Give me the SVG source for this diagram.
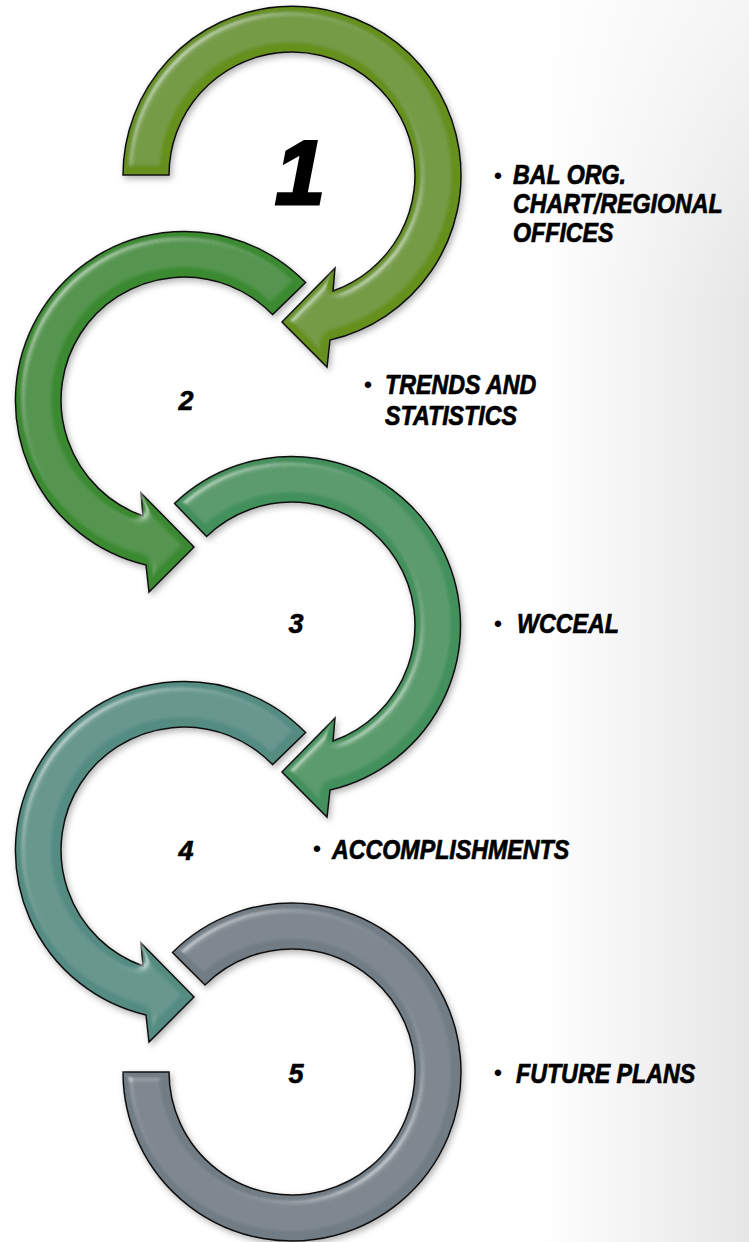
<svg xmlns="http://www.w3.org/2000/svg" width="749" height="1242" viewBox="0 0 749 1242">
<defs>
<linearGradient id="bg" x1="0" y1="0" x2="749" y2="0" gradientUnits="userSpaceOnUse">
<stop offset="0" stop-color="#ffffff"/>
<stop offset="0.72" stop-color="#ffffff"/>
<stop offset="1" stop-color="#e6e6e6"/>
</linearGradient>
<linearGradient id="bgv" x1="0" y1="0" x2="0" y2="1242" gradientUnits="userSpaceOnUse">
<stop offset="0" stop-color="#ffffff" stop-opacity="0.6"/>
<stop offset="0.25" stop-color="#ffffff" stop-opacity="0"/>
<stop offset="1" stop-color="#ffffff" stop-opacity="0"/>
</linearGradient>
<filter id="gloss" x="-15%" y="-15%" width="130%" height="130%">
<feGaussianBlur in="SourceAlpha" stdDeviation="5" result="b"/>
<feSpecularLighting in="b" surfaceScale="6" specularConstant="0.8" specularExponent="40" lighting-color="#ffffff" result="s">
<feDistantLight azimuth="225" elevation="55"/>
</feSpecularLighting>
<feComposite in="s" in2="SourceAlpha" operator="in" result="s2"/>
<feGaussianBlur in="SourceAlpha" stdDeviation="3" result="sh"/>
<feOffset in="sh" dx="2" dy="3" result="sho"/>
<feFlood flood-color="#000" flood-opacity="0.3"/>
<feComposite in2="sho" operator="in" result="shadow"/>
<feComposite in="SourceGraphic" in2="s2" operator="arithmetic" k1="0" k2="1" k3="0.4" k4="0" result="lit"/>
<feMerge><feMergeNode in="shadow"/><feMergeNode in="lit"/></feMerge>
</filter>
<style>
.arrow{stroke:#111;stroke-width:1.5;stroke-linejoin:miter;filter:url(#gloss)}
.a1{fill:#66901f}
.a2{fill:#3a8a30}
.a3{fill:#43905c}
.a4{fill:#548c82}
.a5{fill:#717b84}
.num{font-family:"Liberation Sans",Arial,sans-serif;font-weight:bold;font-style:italic;font-size:27px;fill:#000;text-anchor:middle;stroke:#000;stroke-width:0.6}
.big{font-size:90px;stroke-width:3}
.lbl{font-family:"Liberation Sans",Arial,sans-serif;font-weight:bold;font-style:italic;font-size:27px;fill:#000;stroke:#000;stroke-width:0.7}
.bul{font-family:"Liberation Sans",Arial,sans-serif;font-size:24px;fill:#000;text-anchor:middle}
</style>
</defs>
<rect x="0" y="0" width="749" height="1242" fill="url(#bg)"/>
<rect x="0" y="0" width="749" height="1242" fill="url(#bgv)"/>
<g id="connectors"></g>
<g id="step1">
<path class="arrow a1" d="M123,175 A169,169 0 1 1 330,340 L327,367 L282,322 L335,268 L333,291 A123,123 0 1 0 169,175 Z"/>
<text class="num big" x="300" y="204">1</text>
<text class="bul" x="498" y="184">•</text>
<text class="lbl" transform="translate(513,184) scale(0.86,1)"><tspan x="0" y="0">BAL ORG.</tspan><tspan x="0" y="29">CHART/REGIONAL</tspan><tspan x="0" y="58">OFFICES</tspan></text>
</g>
<g id="step2">
<path class="arrow a2" d="M305.6,282.6 A169,169 0 1 0 146,565 L149,592 L194,547 L141,493 L143,516 A123,123 0 1 1 272.5,314.6 Z"/>
<text class="num" x="186" y="410">2</text>
<text class="bul" x="368" y="393">•</text>
<text class="lbl" transform="translate(385,394) scale(0.86,1)"><tspan x="0" y="0">TRENDS AND</tspan><tspan x="0" y="31">STATISTICS</tspan></text>
</g>
<g id="step3">
<path class="arrow a3" d="M174.6,503.4 A169,169 0 1 1 330,790 L327,817 L282,772 L335,718 L333,741 A123,123 0 1 0 206.6,536.5 Z"/>
<text class="num" x="296" y="633">3</text>
<text class="bul" x="498" y="632">•</text>
<text class="lbl" transform="translate(517,633) scale(0.86,1)">WCCEAL</text>
</g>
<g id="step4">
<path class="arrow a4" d="M305.6,732.6 A169,169 0 1 0 146,1015 L149,1042 L194,997 L141,943 L143,966 A123,123 0 1 1 272.5,764.6 Z"/>
<text class="num" x="186" y="860">4</text>
<text class="bul" x="317" y="857">•</text>
<text class="lbl" transform="translate(332,859) scale(0.86,1)">ACCOMPLISHMENTS</text>
</g>
<g id="step5">
<path class="arrow a5" d="M172.5,952.5 A169,169 0 1 1 123,1072 L169,1072 A123,123 0 1 0 205,985 Z"/>
<text class="num" x="296" y="1083">5</text>
<text class="bul" x="498" y="1081">•</text>
<text class="lbl" transform="translate(516,1083) scale(0.86,1)">FUTURE PLANS</text>
</g>
</svg>
